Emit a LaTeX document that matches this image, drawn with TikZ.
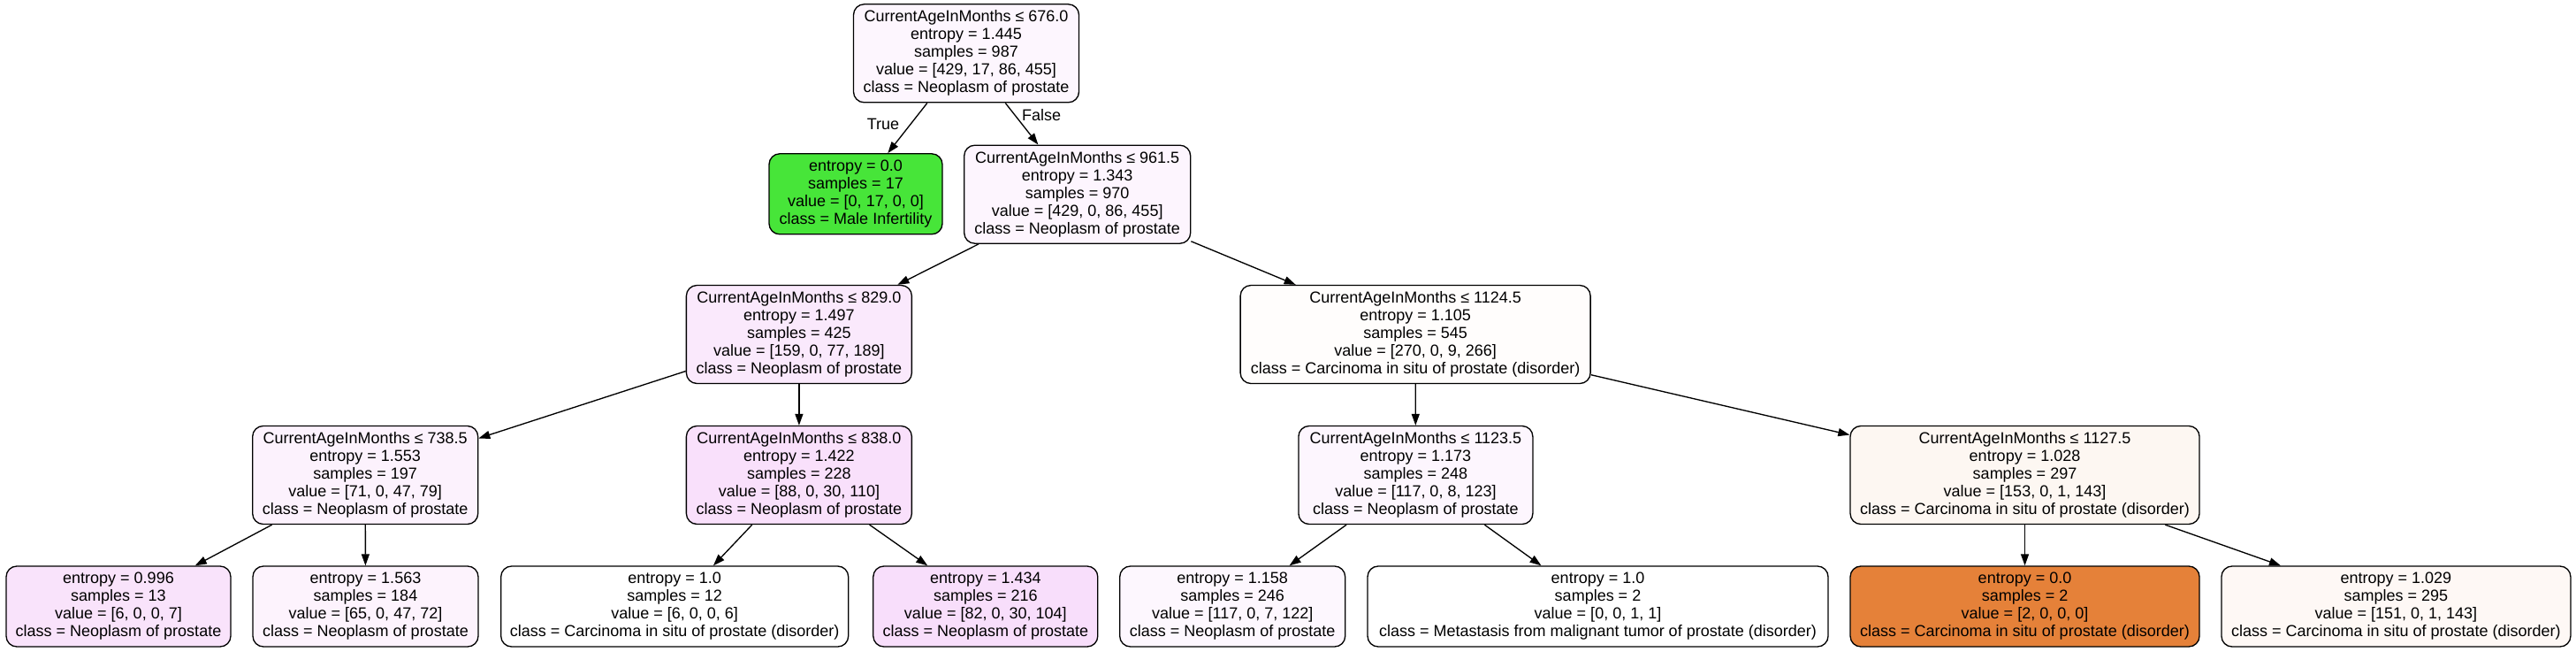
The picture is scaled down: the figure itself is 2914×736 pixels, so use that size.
\documentclass[tikz,border=0pt]{standalone}
\usepackage{fontspec}
\setmainfont{Liberation Sans}
\usetikzlibrary{arrows.meta}
\definecolor{cRoot}{RGB}{253,246,254}
\definecolor{cMale}{RGB}{71,229,57}
\definecolor{cNa}{RGB}{253,245,254}
\definecolor{cNb}{RGB}{250,233,252}
\definecolor{cNc}{RGB}{255,253,252}
\definecolor{cNd}{RGB}{252,242,253}
\definecolor{cNe}{RGB}{249,224,251}
\definecolor{cNf}{RGB}{253,246,254}
\definecolor{cNg}{RGB}{253,247,242}
\definecolor{cLa}{RGB}{249,227,251}
\definecolor{cLb}{RGB}{253,243,253}
\definecolor{cLd}{RGB}{248,222,251}
\definecolor{cLe}{RGB}{253,247,254}
\definecolor{cLg}{RGB}{229,129,57}
\definecolor{cLh}{RGB}{254,248,245}
\begin{document}
\begin{tikzpicture}[x=0.75pt,y=-0.75pt,
  tnode/.style={draw=black, line width=1pt, rounded corners=9pt, align=center,
    inner sep=0pt, font=\fontsize{13.5}{15}\selectfont},
  split/.style={tnode, minimum height=83.25pt},
  leaf/.style={tnode, minimum height=68.25pt},
  elabel/.style={font=\fontsize{13.5}{15}\selectfont, inner sep=0pt},
  edge/.style={line width=1pt, -{Triangle[length=9.75pt,width=6.75pt]}}]
\useasboundingbox (0,0) rectangle (2914,736);
\fill[white] (0,0) rectangle (2914,736);

\node[split, fill=cRoot, minimum width=191.25pt] (n0) at (1093,60.3)
  {CurrentAgeInMonths ≤ 676.0\\entropy = 1.445\\samples = 987\\value = [429, 17, 86, 455]\\class = Neoplasm of prostate};
\node[leaf, fill=cMale, minimum width=147pt] (n1) at (968,219.3)
  {entropy = 0.0\\samples = 17\\value = [0, 17, 0, 0]\\class = Male Infertility};
\node[split, fill=cNa, minimum width=192pt] (n2) at (1218.7,219.7)
  {CurrentAgeInMonths ≤ 961.5\\entropy = 1.343\\samples = 970\\value = [429, 0, 86, 455]\\class = Neoplasm of prostate};
\node[split, fill=cNb, minimum width=191.25pt] (n3) at (903.9,378)
  {CurrentAgeInMonths ≤ 829.0\\entropy = 1.497\\samples = 425\\value = [159, 0, 77, 189]\\class = Neoplasm of prostate};
\node[split, fill=cNc, minimum width=297pt] (n4) at (1601.1,378)
  {CurrentAgeInMonths ≤ 1124.5\\entropy = 1.105\\samples = 545\\value = [270, 0, 9, 266]\\class = Carcinoma in situ of prostate (disorder)};
\node[split, fill=cNd, minimum width=191.25pt] (n5) at (413.2,537)
  {CurrentAgeInMonths ≤ 738.5\\entropy = 1.553\\samples = 197\\value = [71, 0, 47, 79]\\class = Neoplasm of prostate};
\node[split, fill=cNe, minimum width=191.25pt] (n6) at (903.9,537)
  {CurrentAgeInMonths ≤ 838.0\\entropy = 1.422\\samples = 228\\value = [88, 0, 30, 110]\\class = Neoplasm of prostate};
\node[split, fill=cNf, minimum width=198.75pt] (n7) at (1601.4,537)
  {CurrentAgeInMonths ≤ 1123.5\\entropy = 1.173\\samples = 248\\value = [117, 0, 8, 123]\\class = Neoplasm of prostate};
\node[split, fill=cNg, minimum width=296.25pt] (n8) at (2290.5,537)
  {CurrentAgeInMonths ≤ 1127.5\\entropy = 1.028\\samples = 297\\value = [153, 0, 1, 143]\\class = Carcinoma in situ of prostate (disorder)};

\node[leaf, fill=cLa, minimum width=190.5pt] (l1) at (134,685.5)
  {entropy = 0.996\\samples = 13\\value = [6, 0, 0, 7]\\class = Neoplasm of prostate};
\node[leaf, fill=cLb, minimum width=191.25pt] (l2) at (413.5,685.5)
  {entropy = 1.563\\samples = 184\\value = [65, 0, 47, 72]\\class = Neoplasm of prostate};
\node[leaf, fill=white, minimum width=294.75pt] (l3) at (763.2,685.5)
  {entropy = 1.0\\samples = 12\\value = [6, 0, 0, 6]\\class = Carcinoma in situ of prostate (disorder)};
\node[leaf, fill=cLd, minimum width=190.5pt] (l4) at (1114.8,685.5)
  {entropy = 1.434\\samples = 216\\value = [82, 0, 30, 104]\\class = Neoplasm of prostate};
\node[leaf, fill=cLe, minimum width=191.25pt] (l5) at (1394.2,685.5)
  {entropy = 1.158\\samples = 246\\value = [117, 0, 7, 122]\\class = Neoplasm of prostate};
\node[leaf, fill=white, minimum width=390.75pt] (l6) at (1807.5,685.5)
  {entropy = 1.0\\samples = 2\\value = [0, 0, 1, 1]\\class = Metastasis from malignant tumor of prostate (disorder)};
\node[leaf, fill=cLg, minimum width=296.25pt] (l7) at (2290.5,685.5)
  {entropy = 0.0\\samples = 2\\value = [2, 0, 0, 0]\\class = Carcinoma in situ of prostate (disorder)};
\node[leaf, fill=cLh, minimum width=296.25pt] (l8) at (2710.4,685.5)
  {entropy = 1.029\\samples = 295\\value = [151, 0, 1, 143]\\class = Carcinoma in situ of prostate (disorder)};

\draw[edge] (n0) -- (n1);
\draw[edge] (n0) -- (n2);
\draw[edge] (n2) -- (n3);
\draw[edge] (n2) -- (n4);
\draw[edge] (n3) -- (n5);
\draw[edge] (n3) -- (n6);
\draw[edge] (n4) -- (n7);
\draw[edge] (n4) -- (n8);
\draw[edge] (n5) -- (l1);
\draw[edge] (n5) -- (l2);
\draw[edge] (n6) -- (l3);
\draw[edge] (n6) -- (l4);
\draw[edge] (n7) -- (l5);
\draw[edge] (n7) -- (l6);
\draw[edge] (n8) -- (l7);
\draw[edge] (n8) -- (l8);

\node[elabel] (tlab) at (999,140) {True};
\node[elabel] (flab) at (1178,130) {False};
\end{tikzpicture}
\end{document}
